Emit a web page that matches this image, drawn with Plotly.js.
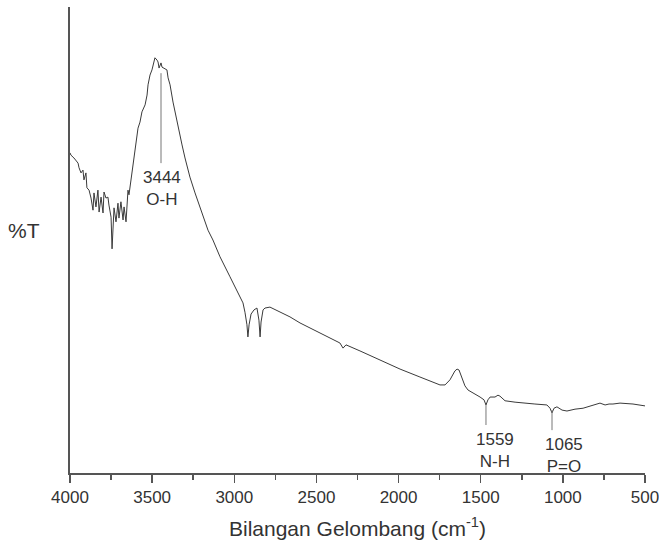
<!DOCTYPE html>
<html>
<head>
<meta charset="utf-8">
<script src="https://cdn.plot.ly/plotly-3.0.1.min.js"></script>
<style>
html,body{margin:0;padding:0;background:#fff;}
#chart{width:659px;height:546px;}
</style>
</head>
<body>
<div id="chart"></div>
<script>
// FTIR spectrum (wavenumber in cm^-1, %T arbitrary 0-100 scale)
var wavenumber = [
4000,3994,3976,3951,3945,3933,3921,3915,3903,3897,3884,3872,3860,3854,3842,3830,3823,3811,3799,3793,
3781,3769,3763,3750,3744,3738,3732,3720,3708,3702,3690,3677,3671,3659,3647,3641,3629,3617,3604,3592,
3586,3574,3562,3543,3531,3525,3513,3501,3495,3483,3470,3464,3458,3446,3440,3428,3410,3403,3391,3373,
3361,3343,3318,3300,3270,3239,3197,3160,3130,3087,3026,2977,2947,2935,2923,2917,2910,2898,2880,2862,
2850,2843,2837,2825,2813,2783,2722,2661,2600,2478,2357,2338,2320,2235,2156,2113,1991,1870,1748,1717,
1687,1657,1644,1632,1614,1596,1577,1535,1504,1480,1468,1456,1443,1413,1395,1383,1352,1291,1243,1170,
1097,1078,1066,1054,1036,1005,975,926,877,835,774,743,719,695,652,573,530,500
];
var transmittance = [
68.7,68.2,67.6,66.5,65.5,64.4,65.0,62.9,64.4,61.2,60.7,59.0,56.4,60.1,57.1,60.7,56.0,59.2,55.8,60.3,
59.0,59.2,57.5,54.9,48.1,54.3,56.9,53.9,57.9,54.7,58.2,54.3,57.1,53.9,60.7,59.7,62.9,65.0,69.3,72.5,
74.0,75.3,77.5,79.0,81.1,83.3,85.4,86.5,87.6,89.1,88.6,88.2,86.9,88.0,87.1,86.9,86.5,84.8,83.3,79.6,
77.5,74.0,70.4,67.6,63.5,60.1,55.8,52.1,50.0,46.4,42.1,38.6,36.5,34.5,31.8,29.2,31.8,34.1,35.0,35.4,
32.8,29.2,32.4,35.0,35.4,35.6,34.5,33.5,32.2,30.0,27.9,26.8,27.5,26.2,24.9,24.2,22.3,20.6,18.9,18.9,
20.0,21.9,22.3,22.1,20.6,18.7,17.8,17.0,16.3,15.7,14.6,15.7,16.3,16.3,16.7,16.5,15.5,15.2,15.0,14.8,
14.6,13.9,12.9,13.9,14.2,13.5,13.3,13.7,13.9,14.4,15.0,14.6,14.8,14.8,15.0,14.8,14.6,14.4
];

// peak markers
var markWn     = [3446, 1468, 1066];
var markTop    = [85.8, 14.6, 13.5];
var markBottom = [66.5, 10.3, 9.2];
var markNumber = ['3444', '1559', '1065'];
var markGroup  = ['O-H', 'N-H', 'P=O'];
var markShift  = [1, 9, 12];

var xTicks = [4000, 3500, 3000, 2500, 2000, 1500, 1000, 500];

var FONT = 'Liberation Sans, Arial, sans-serif';
var shapes = [], annotations = [];
for (var i = 0; i < markWn.length; i++) {
  shapes.push({type:'line', xref:'x', yref:'y', x0:markWn[i], x1:markWn[i],
    y0:markTop[i], y1:markBottom[i], line:{color:'#777', width:1}});
  annotations.push({xref:'x', yref:'y', x:markWn[i], y:markBottom[i],
    xanchor:'center', yanchor:'top', xshift:markShift[i], yshift:-4,
    text: markNumber[i] + '<br>' + markGroup[i], showarrow:false, align:'center',
    font:{family:FONT, size:17, color:'#333'}, borderpad:0});
}
annotations.push({xref:'paper', yref:'paper', x:-0.080, y:0.521, xanchor:'center', yanchor:'middle',
  text:'%T', showarrow:false, font:{family:FONT, size:21, color:'#333'}});

var trace = {x: wavenumber, y: transmittance, type:'scatter', mode:'lines',
  line:{color:'#3a3a3a', width:1}, hoverinfo:'x+y'};

var layout = {
  width:659, height:546,
  margin:{l:70, r:14, t:7, b:73},
  paper_bgcolor:'#fff', plot_bgcolor:'#fff',
  showlegend:false,
  font:{family:FONT, color:'#333'},
  xaxis:{range:[4000, 500], tickvals:xTicks, ticktext:xTicks.map(String),
    ticklabeloverflow:'allow',
    showgrid:false, zeroline:false, showline:true, linecolor:'#555', linewidth:2,
    ticks:'outside', ticklen:8, tickwidth:1.5, tickcolor:'#555',
    minor:{dtick:250, tick0:0, ticks:'outside', ticklen:5, tickwidth:1.5, tickcolor:'#555', showgrid:false},
    tickfont:{size:17, color:'#333'},
    title:{text:'Bilangan Gelombang (cm<sup>-1</sup>)', font:{size:21, color:'#333'}, standoff:15}},
  yaxis:{range:[0, 100], showgrid:false, zeroline:false, showline:true, linecolor:'#555', linewidth:2,
    ticks:'', showticklabels:false},
  shapes: shapes,
  annotations: annotations
};

Plotly.newPlot('chart', [trace], layout, {displayModeBar:false, staticPlot:true});
</script>
</body>
</html>
